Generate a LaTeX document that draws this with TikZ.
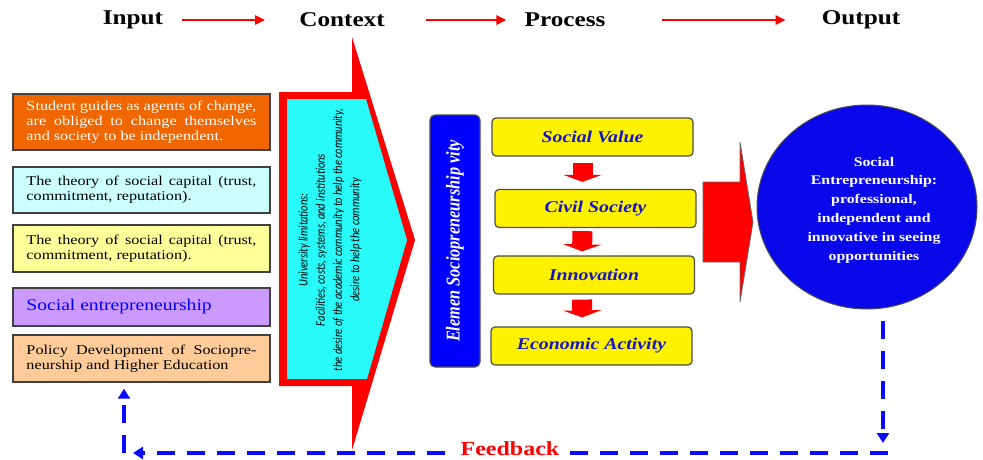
\documentclass[tikz,border=0pt]{standalone}
\usepackage{fontspec}
\usepackage{graphicx}
\setmainfont{Liberation Serif}[FakeStretch=1.2]
\newfontfamily\plainserif{Liberation Serif}
\newfontfamily\calib{Carlito}
\usetikzlibrary{shapes.geometric,arrows.meta}
\definecolor{orangebox}{RGB}{240,102,0}
\definecolor{cyanbox}{RGB}{204,255,255}
\definecolor{ltyellow}{RGB}{255,255,153}
\definecolor{violetbox}{RGB}{204,153,255}
\definecolor{peachbox}{RGB}{255,204,153}
\definecolor{ctxcyan}{RGB}{40,250,250}
\definecolor{pureblue}{RGB}{0,0,255}
\definecolor{ellblue}{RGB}{8,8,235}
\definecolor{textblue}{RGB}{20,20,200}
\definecolor{fbblue}{RGB}{10,10,255}
\newcommand{\nohyph}{\hyphenpenalty=10000\relax\exhyphenpenalty=10000\relax}
\begin{document}
\begin{tikzpicture}[x=1pt,y=-1pt,
  hdr/.style={font=\bfseries\fontsize{21}{24}\selectfont, inner sep=0pt},
  harrow/.style={red, line width=2.5pt, -{Triangle[length=10pt,width=9pt]}},
  lbox/.style={draw=black!75, line width=1.4pt, text width=230pt, inner xsep=13.5pt, inner ysep=0pt,
     align=justify, font=\fontsize{13.5}{15}\selectfont\nohyph},
  ybox/.style={draw=black!70, line width=1.2pt, fill=yellow, rounded corners=4pt,
     minimum width=201pt, minimum height=38pt, inner sep=0pt,
     font=\bfseries\itshape\fontsize{16.5}{19}\selectfont, text=textblue},
  darrow/.style={red, line width=20pt, -{Triangle[length=7pt,width=38pt]}},
  fb/.style={fbblue, line width=3.5pt, dash pattern=on 18pt off 12pt},
  fbtip/.style={-{Triangle[length=10pt,width=12pt]}}
]
\useasboundingbox (0,0) rectangle (983,459);

% header
\node[hdr] (in) at (133,20) {Input};
\node[hdr] (ctx) at (342,20) {Context};
\node[hdr] (proc) at (565,20) {Process};
\node[hdr] (outp) at (861,20) {Output};
\draw[harrow, shorten <=19pt, shorten >=34pt] (in.east) -- (ctx.west);
\draw[harrow, shorten <=41pt, shorten >=18pt] (ctx.east) -- (proc.west);
\draw[harrow, shorten <=56pt, shorten >=36pt] (proc.east) -- (outp.west);

% left boxes
\node[lbox, fill=orangebox, text=white, minimum height=56pt] (b1) at (141.5,122)
  {Student guides as agents of change,\linebreak are obliged to change themselves\linebreak and society to be independent.};
\node[lbox, fill=cyanbox, minimum height=46pt] (b2) at (141.5,190)
  {The theory of social capital (trust,\linebreak commitment, reputation).};
\node[lbox, fill=ltyellow, minimum height=47pt] (b3) at (141.5,248.5)
  {The theory of social capital (trust,\linebreak commitment, reputation).};
\node[lbox, fill=violetbox, minimum height=38pt, font=\fontsize{16.3}{18}\selectfont, text=pureblue] (b4) at (141.5,307)
  {Social entrepreneurship};
\node[lbox, fill=peachbox, minimum height=47pt] (b5) at (141.5,358.5)
  {Policy Development of Sociopre-\linebreak neurship and Higher Education};

% context block arrow
\fill[red] (279,92) -- (352,92) -- (352,37) -- (415,240) -- (352,450) -- (352,386) -- (279,386) -- cycle;
\fill[ctxcyan] (287,99) -- (366,99) -- (407,240) -- (367,379) -- (287,379) -- cycle;
\node[rotate=90, inner sep=0pt] (ctxtext) at (330,240)
  {\scalebox{1}[1.25]{\calib\itshape\fontsize{10.5}{13.8}\selectfont
   \begin{tabular}{@{}c@{}}University limitations:\\
   Facilities, costs, systems, and institutions\\
   the desire of the academic community to help the community,\\
   desire to help the community\end{tabular}}};

% element column
\node[rotate=90, draw=black!70, line width=1.2pt, fill=pureblue, rounded corners=5pt,
      minimum width=252pt, minimum height=50pt, inner sep=0pt, text=white] (elem) at (455,241)
  {\scalebox{1}[1.2]{\plainserif\bfseries\itshape\fontsize{16.3}{18}\selectfont Elemen Sociopreneurship vity}};

\node[ybox] (v1) at (592.5,137) {Social Value};
\node[ybox] (v2) at (595.5,208.5) {Civil Society};
\node[ybox] (v3) at (594,275) {Innovation};
\node[ybox] (v4) at (591.5,346) {Economic Activity};
\draw[darrow, shorten <=6pt, shorten >=7pt] ([xshift=-10pt]v1.south) -- ([xshift=-13pt]v2.north);
\draw[darrow, shorten <=3pt, shorten >=4pt] ([xshift=-13pt]v2.south) -- ([xshift=-12pt]v3.north);
\draw[darrow, shorten <=5pt, shorten >=9pt] ([xshift=-12pt]v3.south) -- ([xshift=-9pt]v4.north);

% big red arrow
\draw[fill=red, draw=black!60, line width=0.8pt] (703,182) -- (740,182) -- (740,142) -- (753,222) -- (740,302) -- (740,262) -- (703,262) -- cycle;

% output ellipse
\node[ellipse, draw=black!70, line width=1pt, fill=ellblue, minimum width=220pt, minimum height=204pt, inner sep=0pt] (out) at (867,207) {};
\node[font=\bfseries\fontsize{13.2}{18.8}\selectfont, text=white, align=center] (outtext) at (874,210)
  {Social\\Entrepreneurship:\\professional,\\independent and\\innovative in seeing\\opportunities};

% feedback
\coordinate (cR) at (883,453);
\coordinate (cL) at (124,453);
\node[font=\bfseries\fontsize{20}{22}\selectfont, text=red, inner xsep=15pt, inner ysep=2pt] (fbl) at (510,449) {Feedback};
\draw[fb, fbtip] ([shift={(16pt,-11pt)}]out.south) -- ([yshift=10pt]cR);
\draw[fb] ([xshift=5pt]cR) -- ([xshift=-8pt]fbl.east |- cR);
\draw[fb, fbtip] (fbl.west |- cL) -- ([xshift=9pt]cL);
\draw[fb, fbtip, shorten >=6pt] (cL) -- (b5.south -| cL);
\end{tikzpicture}
\end{document}
